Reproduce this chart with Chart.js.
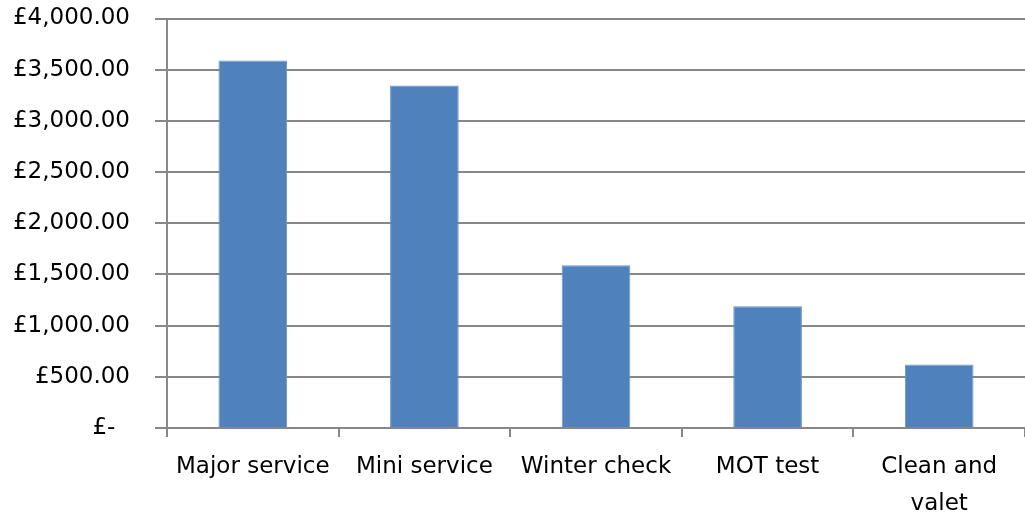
<!DOCTYPE html>
<html>
<head>
<meta charset="utf-8">
<script src="https://cdn.jsdelivr.net/npm/chart.js@4/dist/chart.umd.min.js"></script>
<style>
  html, body { margin: 0; padding: 0; background: #fff; }
  #wrap { width: 1025px; height: 518px; position: relative; }
</style>
</head>
<body>
<div id="wrap"><canvas id="chart"></canvas></div>
<script>
// categories and values
const categories = ['Major service', 'Mini service', 'Winter check', 'MOT test', ['Clean and', 'valet']];
const revenue = [3590, 3345, 1590, 1190, 620];
const yTicks = [0, 500, 1000, 1500, 2000, 2500, 3000, 3500, 4000];

function money(v) {
    if (v === 0) return '£-  ';
    return '£' + v.toLocaleString('en-GB', { minimumFractionDigits: 2, maximumFractionDigits: 2 });
}

const xFont = { family: 'DejaVu Sans', size: 23, lineHeight: 1.6 };
const yFont = { family: 'DejaVu Sans', size: 23, lineHeight: 1.2 };
const gridColor = '#878787';

new Chart(document.getElementById('chart'), {
    type: 'bar',
    data: {
        labels: categories,
        datasets: [{
            data: revenue,
            backgroundColor: '#4F81BD',
            borderColor: '#6a94c8',
            borderWidth: 1,
            categoryPercentage: 1.0,
            barPercentage: 0.4
        }]
    },
    options: {
        responsive: true,
        maintainAspectRatio: false,
        animation: false,
        layout: { padding: { top: 0, right: 0, left: 0, bottom: 0 } },
        plugins: { legend: { display: false }, tooltip: { enabled: false } },
        scales: {
            x: {
                grid: {
                    drawOnChartArea: false,
                    // the tick on the far right edge is cut off in the original
                    color: ctx => ctx.index === categories.length ? 'rgba(0,0,0,0)' : gridColor,
                    lineWidth: 2,
                    tickLength: 9,
                    offset: true
                },
                border: { color: gridColor, width: 2 },
                ticks: { color: '#000', font: xFont, padding: 12, maxRotation: 0, autoSkip: false },
                afterFit: s => { s.height = 90; s.paddingRight = 0; }
            },
            y: {
                min: 0,
                max: 4000,
                afterBuildTicks: s => { s.ticks = yTicks.map(v => ({ value: v })); },
                grid: { color: gridColor, lineWidth: 2, tickLength: 12 },
                border: { color: gridColor, width: 2 },
                ticks: { color: '#000', font: yFont, padding: 25, callback: v => money(v) },
                afterFit: s => { s.width = 167; s.paddingTop = 18.5; s.paddingBottom = 0; }
            }
        }
    }
});
</script>
</body>
</html>
